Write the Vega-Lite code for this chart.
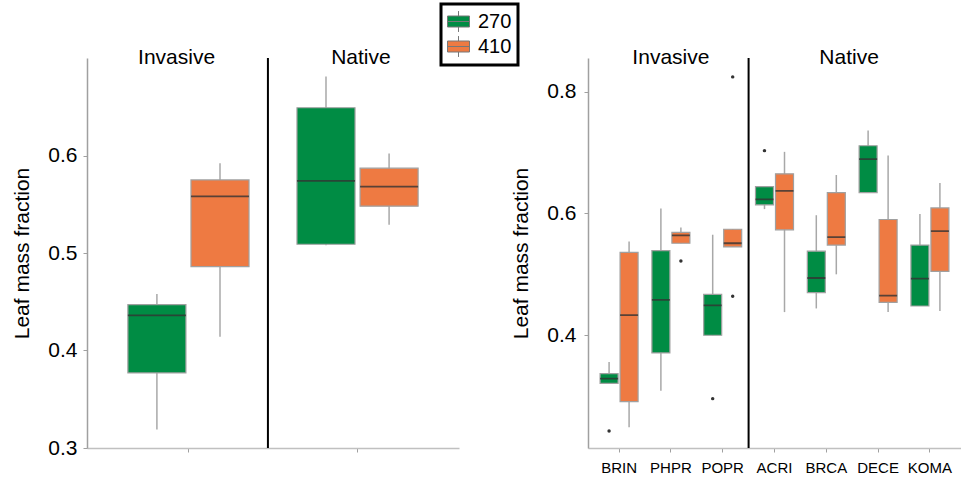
{
  "$schema": "https://vega.github.io/schema/vega-lite/v6.json",
  "padding": {"left": 11, "top": 2, "right": 0, "bottom": 0},
  "background": "white",
  "spacing": 51,
  "config": {
    "font": "Liberation Sans",
    "view": {"stroke": null},
    "legend": {"strokeColor": "black"},
    "axis": {
      "grid": false,
      "domainColor": "#a0a0a0",
      "domainWidth": 1.5,
      "tickColor": "#a0a0a0",
      "tickSize": 4,
      "labelColor": "black",
      "labelFont": "Liberation Sans",
      "titleFont": "Liberation Sans",
      "titleFontWeight": "normal",
      "titleColor": "black",
      "titleFontSize": 21,
      "labelFontSize": 21
    }
  },
  "datasets": {
    "overall": [
      {"group": "Invasive", "temp": "270", "low": 0.319, "q1": 0.377, "median": 0.436, "q3": 0.447, "high": 0.458},
      {"group": "Invasive", "temp": "410", "low": 0.414, "q1": 0.486, "median": 0.558, "q3": 0.575, "high": 0.592},
      {"group": "Native", "temp": "270", "low": 0.508, "q1": 0.509, "median": 0.574, "q3": 0.649, "high": 0.681},
      {"group": "Native", "temp": "410", "low": 0.529, "q1": 0.548, "median": 0.568, "q3": 0.587, "high": 0.602}
    ],
    "species": [
      {"species": "BRIN", "temp": "270", "low": 0.321, "q1": 0.321, "median": 0.329, "q3": 0.337, "high": 0.356},
      {"species": "BRIN", "temp": "410", "low": 0.249, "q1": 0.291, "median": 0.433, "q3": 0.536, "high": 0.554},
      {"species": "PHPR", "temp": "270", "low": 0.309, "q1": 0.371, "median": 0.458, "q3": 0.539, "high": 0.608},
      {"species": "PHPR", "temp": "410", "low": 0.551, "q1": 0.551, "median": 0.564, "q3": 0.569, "high": 0.577},
      {"species": "POPR", "temp": "270", "low": 0.4, "q1": 0.4, "median": 0.449, "q3": 0.467, "high": 0.565},
      {"species": "POPR", "temp": "410", "low": 0.545, "q1": 0.545, "median": 0.551, "q3": 0.574, "high": 0.574},
      {"species": "ACRI", "temp": "270", "low": 0.607, "q1": 0.614, "median": 0.623, "q3": 0.644, "high": 0.644},
      {"species": "ACRI", "temp": "410", "low": 0.438, "q1": 0.573, "median": 0.637, "q3": 0.665, "high": 0.701},
      {"species": "BRCA", "temp": "270", "low": 0.444, "q1": 0.47, "median": 0.494, "q3": 0.538, "high": 0.597},
      {"species": "BRCA", "temp": "410", "low": 0.5, "q1": 0.548, "median": 0.561, "q3": 0.634, "high": 0.663},
      {"species": "DECE", "temp": "270", "low": 0.634, "q1": 0.634, "median": 0.689, "q3": 0.711, "high": 0.736},
      {"species": "DECE", "temp": "410", "low": 0.438, "q1": 0.454, "median": 0.465, "q3": 0.59, "high": 0.695},
      {"species": "KOMA", "temp": "270", "low": 0.448, "q1": 0.448, "median": 0.493, "q3": 0.548, "high": 0.599},
      {"species": "KOMA", "temp": "410", "low": 0.44, "q1": 0.505, "median": 0.571, "q3": 0.609, "high": 0.65}
    ],
    "outliers": [
      {"species": "BRIN", "temp": "270", "value": 0.243},
      {"species": "PHPR", "temp": "410", "value": 0.522},
      {"species": "POPR", "temp": "270", "value": 0.296},
      {"species": "POPR", "temp": "410", "value": 0.824},
      {"species": "POPR", "temp": "410", "value": 0.464},
      {"species": "ACRI", "temp": "270", "value": 0.703}
    ]
  },
  "resolve": {"scale": {"x": "independent", "y": "independent", "xOffset": "independent", "color": "shared"}},
  "hconcat": [
    {
      "width": 372,
      "height": 390,
      "layer": [
        {
          "data": {"name": "overall"},
          "mark": {"type": "rule", "color": "#a8a8a8", "strokeWidth": 1.5},
          "encoding": {
            "x": {"field": "group", "type": "nominal", "scale": {"domain": ["Invasive", "Native"], "paddingInner": 0, "paddingOuter": 0.1}, "axis": {"labels": false, "title": null, "domainColor": "#c0c0c0"}},
            "xOffset": {"field": "temp", "type": "nominal", "scale": {"paddingInner": 0.08, "paddingOuter": 0.38}},
            "y": {"field": "low", "type": "quantitative", "scale": {"domain": [0.3, 0.7], "nice": false, "zero": false}, "axis": {"values": [0.3, 0.4, 0.5, 0.6], "format": ".1f", "title": "Leaf mass fraction", "titlePadding": 15, "labelPadding": 6}},
            "y2": {"field": "high"}
          }
        },
        {
          "data": {"name": "overall"},
          "mark": {"type": "bar", "stroke": "#a0a0a0", "strokeWidth": 1.2, "opacity": 1},
          "encoding": {
            "x": {"field": "group", "type": "nominal"},
            "xOffset": {"field": "temp", "type": "nominal"},
            "y": {"field": "q1", "type": "quantitative"},
            "y2": {"field": "q3"},
            "color": {"field": "temp", "type": "nominal", "scale": {"domain": ["270", "410"], "range": ["#008C44", "#EE7A42"]},
              "legend": {"title": null, "orient": "none", "legendX": 354, "legendY": -54, "padding": 6, "labelFontSize": 20, "labelOffset": 8, "rowPadding": 0, "symbolSize": 484, "symbolType": "M-1,-0.5H1V0.5H-1Z M-1,0H1 M0,-0.5V-0.95 M0,0.5V0.95", "symbolStrokeColor": "#777", "symbolStrokeWidth": 1, "symbolOpacity": 1, "labelColor": "black", "labelFont": "Liberation Sans",
                "encode": {"legend": {"update": {"strokeWidth": {"value": 3}}}}}}
          }
        },
        {
          "data": {"name": "overall"},
          "mark": {"type": "bar", "fill": null, "stroke": "#333", "strokeOpacity": 0.8, "strokeWidth": 1.8},
          "encoding": {
            "x": {"field": "group", "type": "nominal"},
            "xOffset": {"field": "temp", "type": "nominal"},
            "y": {"field": "median", "type": "quantitative"},
            "y2": {"field": "median"}
          }
        },
        {
          "data": {"values": [{"after": "Invasive"}]},
          "mark": {"type": "rule", "color": "black", "strokeWidth": 2},
          "encoding": {
            "x": {"field": "after", "type": "nominal", "bandPosition": 0.97}
          }
        },
        {
          "data": {"values": [{"label": "Invasive", "top": 0.7}]},
          "mark": {"type": "text", "fontSize": 21, "baseline": "middle", "color": "black"},
          "encoding": {
            "x": {"field": "label", "type": "nominal", "bandPosition": 0.43},
            "y": {"field": "top", "type": "quantitative"},
            "text": {"field": "label"}
          }
        },
        {
          "data": {"values": [{"label": "Native", "top": 0.7}]},
          "mark": {"type": "text", "fontSize": 21, "baseline": "middle", "color": "black"},
          "encoding": {
            "x": {"field": "label", "type": "nominal", "bandPosition": 0.52},
            "y": {"field": "top", "type": "quantitative"},
            "text": {"field": "label"}
          }
        }
      ]
    },
    {
      "width": 373,
      "height": 390,
      "layer": [
        {
          "data": {"name": "species"},
          "mark": {"type": "rule", "color": "#a8a8a8", "strokeWidth": 1.5},
          "encoding": {
            "x": {"field": "species", "type": "nominal", "scale": {"domain": ["BRIN", "PHPR", "POPR", "ACRI", "BRCA", "DECE", "KOMA"], "paddingInner": 0, "paddingOuter": 0.1}, "axis": {"title": null, "labelAngle": 0, "labelFontSize": 15, "labelPadding": 8, "domainColor": "#c0c0c0"}},
            "xOffset": {"field": "temp", "type": "nominal", "scale": {"paddingInner": 0.1, "paddingOuter": 0.345}},
            "y": {"field": "low", "type": "quantitative", "scale": {"domain": [0.215, 0.855], "nice": false, "zero": false}, "axis": {"values": [0.4, 0.6, 0.8], "format": ".1f", "title": "Leaf mass fraction", "titlePadding": 15, "labelPadding": 8}},
            "y2": {"field": "high"}
          }
        },
        {
          "data": {"name": "species"},
          "mark": {"type": "bar", "stroke": "#a0a0a0", "strokeWidth": 1.2, "opacity": 1},
          "encoding": {
            "x": {"field": "species", "type": "nominal"},
            "xOffset": {"field": "temp", "type": "nominal"},
            "y": {"field": "q1", "type": "quantitative"},
            "y2": {"field": "q3"},
            "color": {"field": "temp", "type": "nominal"}
          }
        },
        {
          "data": {"name": "species"},
          "mark": {"type": "bar", "fill": null, "stroke": "#333", "strokeOpacity": 0.8, "strokeWidth": 1.8},
          "encoding": {
            "x": {"field": "species", "type": "nominal"},
            "xOffset": {"field": "temp", "type": "nominal"},
            "y": {"field": "median", "type": "quantitative"},
            "y2": {"field": "median"}
          }
        },
        {
          "data": {"name": "outliers"},
          "mark": {"type": "point", "filled": true, "color": "#333", "size": 12, "opacity": 1},
          "encoding": {
            "x": {"field": "species", "type": "nominal"},
            "xOffset": {"field": "temp", "type": "nominal"},
            "y": {"field": "value", "type": "quantitative"}
          }
        },
        {
          "data": {"values": [{"after": "POPR"}]},
          "mark": {"type": "rule", "color": "black", "strokeWidth": 2},
          "encoding": {
            "x": {"field": "after", "type": "nominal", "bandPosition": 1}
          }
        },
        {
          "data": {"values": [{"label": "Invasive", "at": "PHPR", "top": 0.855}]},
          "mark": {"type": "text", "fontSize": 21, "baseline": "middle", "color": "black"},
          "encoding": {
            "x": {"field": "at", "type": "nominal", "bandPosition": 0.5},
            "y": {"field": "top", "type": "quantitative"},
            "text": {"field": "label"}
          }
        },
        {
          "data": {"values": [{"label": "Native", "at": "BRCA", "top": 0.855}]},
          "mark": {"type": "text", "fontSize": 21, "baseline": "middle", "color": "black"},
          "encoding": {
            "x": {"field": "at", "type": "nominal", "bandPosition": 0.94},
            "y": {"field": "top", "type": "quantitative"},
            "text": {"field": "label"}
          }
        }
      ]
    }
  ]
}
